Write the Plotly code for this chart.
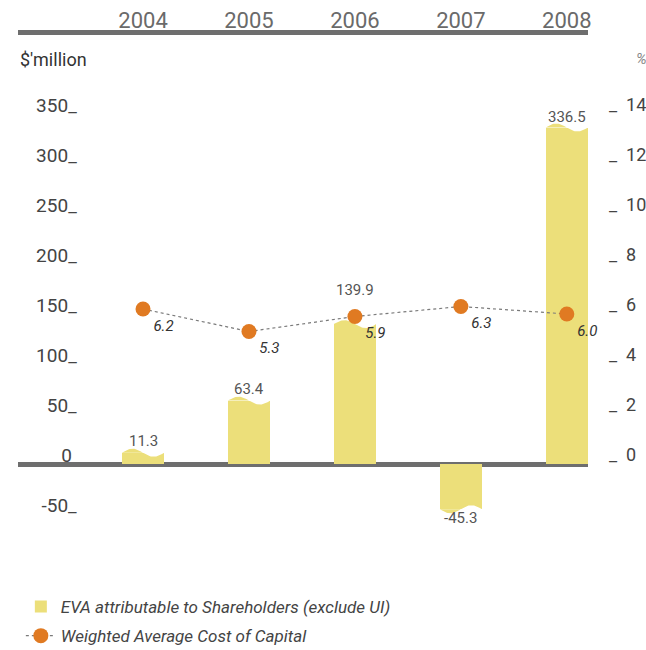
import numpy as np
import plotly.graph_objects as go

# Data
years = ["2004", "2005", "2006", "2007", "2008"]
eva = [11.3, 63.4, 139.9, -45.3, 336.5]          # $ million
wacc = [6.2, 5.3, 5.9, 6.3, 6.0]                 # %
left_ticks = [-50, 0, 50, 100, 150, 200, 250, 300, 350]
right_ticks = [0, 2, 4, 6, 8, 10, 12, 14]

BAR = "#ECDF7A"
ORANGE = "#E07A22"
GREY = "#6E6E6E"
TXT = "#555555"
FONT = "Roboto"

x = list(range(len(years)))
bar_w = 0.4
wave_amp = 4.0          # height of the wavy edge, in $ million
ratio = 25.0            # $ million per percentage point on the right axis
y_lo, y_hi = -76, 429

fig = go.Figure()

fig.add_trace(go.Bar(
    x=x, y=eva, width=bar_w, marker=dict(color=BAR, line=dict(width=0)),
    name="EVA attributable to Shareholders (exclude UI)", yaxis="y",
    legendgroup="eva", hoverinfo="skip",
))

# Wavy free edge of each bar: first half of the wave adds fill, second half cuts it away
cap_x, cap_y, cut_x, cut_y = [], [], [], []
for xi, v in zip(x, eva):
    sgn = 1 if v >= 0 else -1
    t1 = np.linspace(0, 0.5, 25)
    t2 = np.linspace(0.5, 1.0, 25)
    x1 = xi - bar_w / 2 + t1 * bar_w
    x2 = xi - bar_w / 2 + t2 * bar_w
    y1 = v + sgn * wave_amp * np.sin(2 * np.pi * t1)
    y2 = v + sgn * wave_amp * np.sin(2 * np.pi * t2)
    cap_x += list(x1) + [x1[0], None]
    cap_y += list(y1) + [y1[0], None]
    cut_x += list(x2) + [x2[0], None]
    cut_y += list(y2) + [y2[0], None]

fig.add_trace(go.Scatter(x=cap_x, y=cap_y, mode="lines", fill="toself",
                         fillcolor=BAR, line=dict(width=0), showlegend=False,
                         hoverinfo="skip"))
fig.add_trace(go.Scatter(x=cut_x, y=cut_y, mode="lines", fill="toself",
                         fillcolor="white", line=dict(width=0, color="white"),
                         showlegend=False, hoverinfo="skip"))

fig.add_trace(go.Scatter(
    x=x, y=wacc, yaxis="y2", mode="lines+markers+text",
    name="Weighted Average Cost of Capital", legendgroup="wacc",
    line=dict(color="#7A7A7A", width=1.2, dash="dot"),
    marker=dict(color=ORANGE, size=15),
    text=[f"{w:.1f}" for w in wacc], textposition="bottom right",
    textfont=dict(family=FONT, size=15, color="#333333", style="italic"),
    cliponaxis=False, hoverinfo="skip",
))

# Value labels on the bars
label_shift = [12, 12, 34, 0, 11]
for xi, v, s in zip(x, eva, label_shift):
    fig.add_annotation(
        x=xi, y=v, xref="x", yref="y", text=f"{v:.1f}", showarrow=False,
        yshift=s if v >= 0 else -9,
        yanchor="middle",
        font=dict(family=FONT, size=15, color=TXT),
    )

fig.add_annotation(x=0, y=1.0, xref="paper", yref="paper", xanchor="left",
                   yanchor="middle", yshift=-24, xshift=0,
                   text="$′million", showarrow=False,
                   font=dict(family=FONT, size=18, color="#333333"))
fig.add_annotation(x=1, y=1.0, xref="paper", yref="paper", xanchor="left",
                   yanchor="middle", yshift=-24, xshift=46,
                   text="%", showarrow=False,
                   font=dict(family=FONT, size=15, color="#888888", style="italic"))

fig.update_layout(
    width=646, height=650,
    margin=dict(l=18, r=58, t=35, b=110, autoexpand=False),
    paper_bgcolor="white", plot_bgcolor="white",
    font=dict(family=FONT, color=TXT),
    bargap=0,
    xaxis=dict(
        range=[-1.18, 4.2], side="top", automargin=False,
        tickmode="array", tickvals=x, ticktext=years,
        tickfont=dict(family=FONT, size=22, color="#6A6A6A"),
        ticklabelstandoff=-7,
        showline=True, linewidth=5, linecolor=GREY,
        showgrid=False, zeroline=False, ticks="",
    ),
    yaxis=dict(
        range=[y_lo, y_hi], anchor="free", position=0.103, automargin=False,
        tickmode="array", tickvals=left_ticks,
        ticktext=[("0\u00a0" if t == 0 else f"{t}_") for t in left_ticks],
        tickfont=dict(family=FONT, size=19, color="#444444"),
        ticklabelshift=-9,
        showgrid=False, showline=False, ticks="",
        zeroline=True, zerolinewidth=5, zerolinecolor=GREY,
    ),
    yaxis2=dict(
        range=[y_lo / ratio, y_hi / ratio], overlaying="y", side="right",
        anchor="x", automargin=False,
        tickmode="array", tickvals=right_ticks,
        ticktext=[f"_  {t}" for t in right_ticks],
        tickfont=dict(family=FONT, size=18, color="#444444"),
        ticklabelshift=-9, ticklabelstandoff=20,
        showgrid=False, showline=False, ticks="", zeroline=False,
    ),
    legend=dict(
        x=0.005, y=-0.097, xanchor="left", yanchor="top",
        font=dict(family=FONT, size=17, color="#444444", style="italic"),
        bgcolor="rgba(0,0,0,0)", traceorder="grouped", tracegroupgap=4,
    ),
    showlegend=True,
)

fig.write_html("out.html")
